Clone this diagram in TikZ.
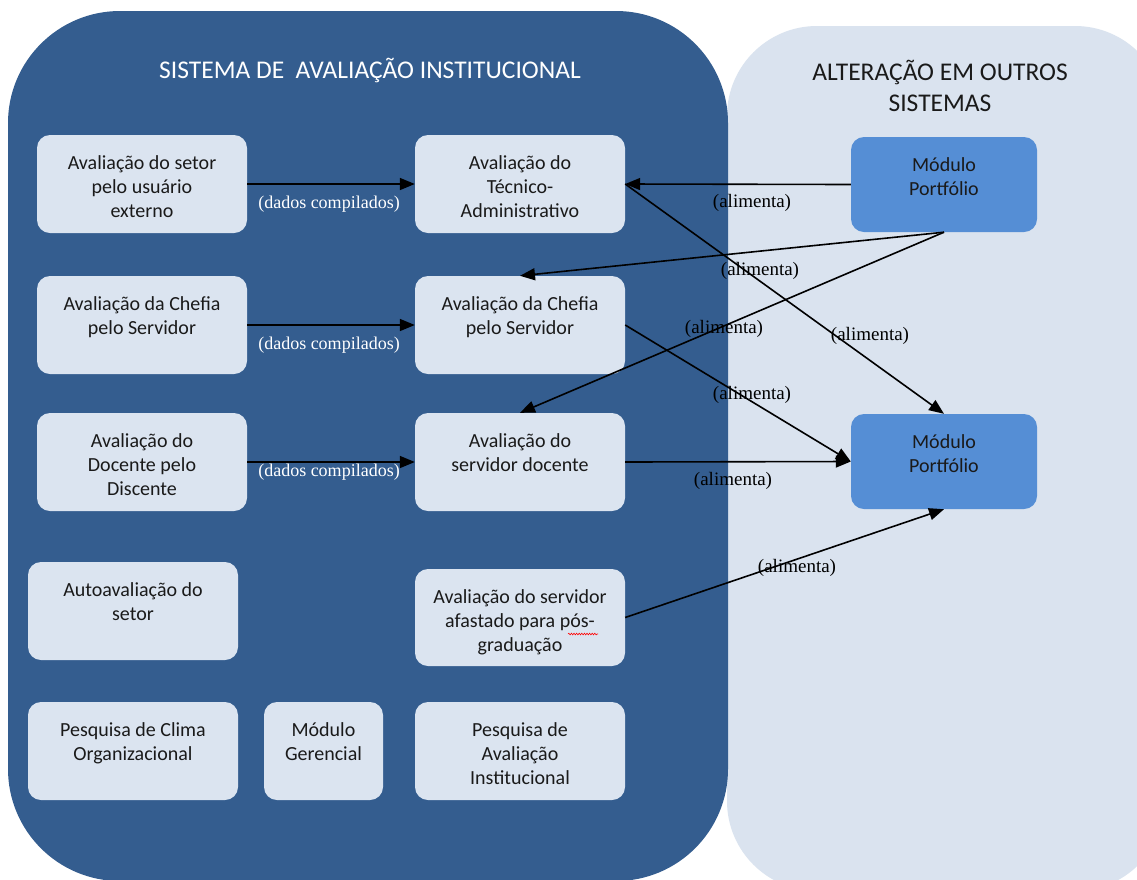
\documentclass[tikz,border=0pt]{standalone}
\usepackage{fontspec}
\setmainfont{Carlito}
\newfontfamily\lblfont{Liberation Serif}
\usetikzlibrary{arrows.meta,decorations.pathmorphing}
\definecolor{darkpanel}{HTML}{345D8F}
\definecolor{lightpanel}{HTML}{DAE3EF}
\definecolor{boxfill}{HTML}{DBE4F0}
\definecolor{modfill}{HTML}{558ED5}
\definecolor{txt}{HTML}{1A1A1A}
\newcommand{\bxt}[3]{\parbox[c][#2pt][t]{#1pt}{\centering\rule{0pt}{34pt}#3}}
\begin{document}
\begin{tikzpicture}[x=1pt,y=-1pt,
 box/.style={fill=boxfill, rounded corners=13pt, inner sep=0pt, text=txt, font=\fontsize{20}{24}\selectfont},
 modbox/.style={box, fill=modfill},
 conn/.style={line width=1.6pt, -{Triangle[length=15pt,width=12pt]}},
 lbl/.style={font=\lblfont\fontsize{19}{20}\selectfont, inner sep=0pt, text=black},
 wlbl/.style={lbl, font=\lblfont\fontsize{18}{20}\selectfont, text=white},
 head/.style={font=\fontsize{25.5}{31}\selectfont, align=center, inner sep=0pt},
]
\useasboundingbox (0,0) rectangle (1137,879);
\clip (0,0) rectangle (1137,879);
\fill[white] (0,0) rectangle (1137,879);
% panels
\fill[lightpanel, rounded corners=90pt] (727,26) rectangle (1165,891);
\fill[darkpanel, rounded corners=112pt] (8,11) rectangle (728,881);
% headers
\node[head, text=white] (h1) at (370,70) {SISTEMA DE \ AVALIAÇÃO INSTITUCIONAL};
\node[head, text=txt] (h2) at (940,86) {ALTERAÇÃO EM OUTROS\\SISTEMAS};
% boxes
\node[box] (b1) at (142,184) {\bxt{210}{98}{Avaliação do setor\\pelo usuário\\externo}};
\node[box] (b2) at (520,184) {\bxt{210}{98}{Avaliação do\\Técnico-\\Administrativo}};
\node[box] (b3) at (142,325) {\bxt{210}{98}{Avaliação da Chefia\\pelo Servidor}};
\node[box] (b4) at (520,325) {\bxt{210}{98}{Avaliação da Chefia\\pelo Servidor}};
\node[box] (b5) at (142,462) {\bxt{210}{98}{Avaliação do\\Docente pelo\\Discente}};
\node[box] (b6) at (520,462) {\bxt{210}{98}{Avaliação do\\servidor docente}};
\node[box] (b7) at (133,611) {\bxt{210}{98}{Autoavaliação do\\setor}};
\node[box] (b8) at (520,617.5) {\bxt{210}{97}{Avaliação do servidor\\afastado para pós-\\graduação}};
\node[box] (b9) at (133,751) {\bxt{210}{98}{Pesquisa de Clima\\Organizacional}};
\node[box] (b10) at (323.5,751) {\bxt{119}{98}{Módulo\\Gerencial}};
\node[box] (b11) at (520,751) {\bxt{210}{98}{Pesquisa de\\Avaliação\\Institucional}};
\node[modbox] (mA) at (944,184.5) {\bxt{186}{95}{Módulo\\Portfólio}};
\node[modbox] (mB) at (944,461.5) {\bxt{186}{95}{Módulo\\Portfólio}};
% spell-check squiggle
\draw[red, line width=0.6pt, decorate, decoration={snake, amplitude=0.8pt, segment length=2.6pt}] (568,634) -- (598,634);
% connectors
\draw[conn] (b1.east) -- (b2.west);
\draw[conn] (b3.east) -- (b4.west);
\draw[conn] (b5.east) -- (b6.west);
\draw[conn] (mA.west) -- (b2.east);
\draw[conn] (mA.south) -- (b4.north);
\draw[conn] (mA.south) -- (b6.north);
\draw[conn] (b2.east) -- (mB.north);
\draw[conn] (b4.east) -- (mB.west);
\draw[conn] (b6.east) -- (mB.west);
\draw[conn] (b8.east) -- (mB.south);
% labels
\node[wlbl] (l1) at (329,204) {(dados compilados)};
\node[wlbl] (l2) at (329,345) {(dados compilados)};
\node[wlbl] (l3) at (329,472) {(dados compilados)};
\node[lbl] (l4) at (752,203) {(alimenta)};
\node[lbl] (l5) at (760,271) {(alimenta)};
\node[lbl] (l6) at (724,329) {(alimenta)};
\node[lbl] (l7) at (870,336) {(alimenta)};
\node[lbl] (l8) at (752,395) {(alimenta)};
\node[lbl] (l9) at (733,481) {(alimenta)};
\node[lbl] (l10) at (797,568) {(alimenta)};
\end{tikzpicture}
\end{document}
